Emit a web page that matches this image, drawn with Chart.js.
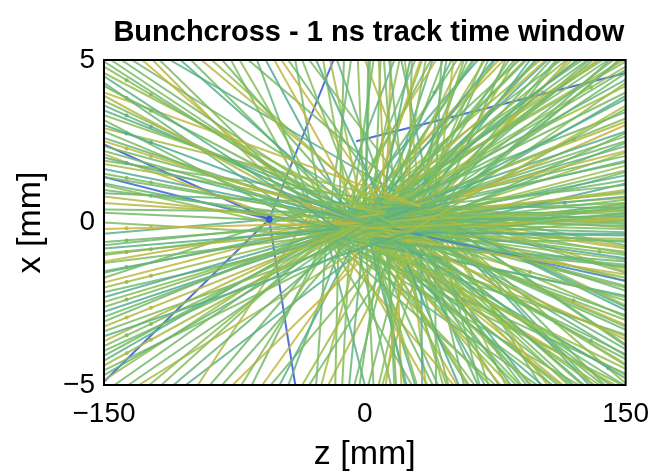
<!DOCTYPE html>
<html>
<head>
<meta charset="utf-8">
<script src="https://cdn.jsdelivr.net/npm/chart.js@4.4.1/dist/chart.umd.min.js"></script>
<style>
  html, body { margin: 0; padding: 0; background: #fff; }
  #wrap { width: 661px; height: 476px; }
</style>
</head>
<body>
<div id="wrap"><canvas id="tracks"></canvas></div>
<script>
// vertices (z, x) in mm
const vertexZ = [0, 12, -15, 25, -30, -55, 5, 40, -5, -8, 18, -22, 32];
const vertexX = [0, 0.3, -0.2, -0.3, 0.4, 0.1, -0.6, 0.2, 2.5, 0.1, -0.1, -0.4, 0.5];

// tracks leaving through the left edge (z = -150): [vertex, x at edge, time ns]
const leftRays = [
  [0, 4.8, 0.1], [2, 4.5, -0.2], [0, 4.2, 0.0], [4, 3.9, 0.5], [0, 3.6, -0.1], [1, 3.3, 0.2],
  [0, 3.0, -0.3], [2, 2.8, 0.1], [0, 2.5, 0.6], [5, 2.4, -1.0], [4, 2.2, 0.0], [0, 2.0, -0.2],
  [1, 1.8, 0.4], [0, 1.5, 0.1], [5, 1.4, -0.9], [2, 1.2, -0.1], [0, 1.0, 0.0], [3, 0.8, 0.5],
  [1, 0.4, 0.0], [0, -0.2, 0.7], [0, -0.6, 0.0], [2, -0.8, -0.2], [0, -1.0, 0.1], [1, -1.2, 0.6],
  [0, -1.5, -0.1], [4, -1.7, 0.0], [0, -2.0, 0.3], [2, -2.3, -0.3], [0, -2.6, 0.1], [1, -2.9, 0.0],
  [0, -3.2, 0.5], [3, -3.5, -0.2], [0, -3.8, 0.1], [2, -4.1, 0.0], [0, -4.4, 0.4], [1, -4.7, -0.1],
  [5, -4.9, -1.0],
  [9, 4.95, 0.0], [10, 4.6, 0.3], [11, 4.3, -0.1], [12, 4.0, 0.6], [9, 3.75, 0.1], [10, 3.45, -0.2],
  [11, 3.15, 0.0], [12, 2.9, 0.4], [9, 2.6, -0.1], [10, 2.35, 0.0], [11, 2.1, 0.6], [12, 1.9, 0.1],
  [9, 1.65, -0.3], [10, 1.4, 0.0], [11, 1.15, 0.2], [12, 0.9, -0.1], [9, 0.6, 0.5], [10, 0.3, 0.0],
  [11, 0.0, 0.1], [12, -0.35, -0.2], [9, -0.7, 0.0], [10, -0.95, 0.4], [11, -1.25, 0.1], [12, -1.55, -0.1],
  [9, -1.85, 0.6], [10, -2.15, 0.0], [11, -2.45, 0.2], [12, -2.75, -0.3], [9, -3.05, 0.0], [10, -3.35, 0.1],
  [11, -3.65, 0.5], [12, -3.95, 0.0], [9, -4.25, -0.2], [10, -4.55, 0.1], [11, -4.85, 0.3]
];

// tracks leaving through the right edge (z = 150)
const rightRays = [
  [0, 4.8, 0.2], [1, 4.4, -0.1], [0, 4.0, 0.0], [3, 3.6, 0.5], [0, 3.2, 0.1], [2, 2.8, -0.2],
  [8, 4.6, -1.0], [0, 2.5, 0.0], [1, 2.2, 0.6], [0, 1.9, -0.1], [7, 1.6, 0.1], [0, 1.3, 0.0],
  [2, 1.0, 0.4], [0, 0.8, -0.2], [1, 0.6, 0.1], [3, 0.5, 0.0], [0, 0.4, 0.3], [6, 0.3, 0.0],
  [0, 0.2, -0.1], [2, 0.1, 0.5], [1, 0.0, 0.0], [0, -0.2, 0.1], [3, -0.4, -0.3], [0, -0.6, 0.0],
  [1, -0.8, 0.5], [0, -1.0, 0.1], [6, -1.2, -0.1], [0, -1.4, 0.0], [2, -1.6, 0.6], [0, -1.8, -0.7],
  [1, -2.1, 0.0], [0, -2.4, 0.2], [7, -2.7, -0.2], [0, -3.0, 0.1], [3, -3.3, 0.0], [0, -3.6, 0.5],
  [1, -3.9, -0.1], [0, -4.2, 0.0], [2, -4.5, 0.3], [0, -4.8, -0.2],
  [9, 4.95, 0.1], [10, 4.6, 0.0], [11, 4.2, 0.4], [12, 3.8, -0.2], [9, 3.4, 0.0], [10, 3.0, 0.6],
  [11, 2.65, 0.1], [12, 2.35, -0.1], [9, 2.05, 0.0], [10, 1.75, 0.3], [11, 1.45, -0.3], [12, 1.15, 0.0],
  [9, 0.9, 0.5], [10, 0.7, 0.1], [11, 0.55, 0.0], [12, 0.45, -0.2], [9, 0.35, 0.2], [10, 0.25, 0.0],
  [11, 0.15, 0.6], [12, 0.05, 0.1], [9, -0.1, 0.0], [10, -0.3, -0.1], [11, -0.5, 0.4], [12, -0.7, 0.0],
  [9, -0.9, 0.2], [10, -1.1, -0.3], [11, -1.3, 0.0], [12, -1.5, 0.5], [9, -1.7, 0.1], [10, -1.95, 0.0],
  [11, -2.25, -0.2], [12, -2.55, 0.3], [9, -2.85, 0.0], [10, -3.15, 0.6], [11, -3.45, 0.1], [12, -3.75, -0.1],
  [9, -4.05, 0.0], [10, -4.35, 0.4], [11, -4.65, 0.0], [12, -4.95, 0.2],
  [1, 4.7, 0.0], [3, 4.3, 0.2], [6, 3.9, -0.2], [7, 3.5, 0.1], [1, 3.1, 0.5], [3, 2.75, 0.0],
  [6, 2.45, -0.1], [7, 2.15, 0.3], [1, 1.85, 0.0], [3, 1.55, 0.1], [6, 1.2, -0.3], [7, 0.95, 0.0],
  [1, 0.75, 0.6], [3, 0.6, 0.1], [6, 0.48, 0.0], [7, 0.38, -0.2], [1, 0.28, 0.2], [3, 0.18, 0.0],
  [6, 0.08, 0.4], [7, -0.05, 0.0], [1, -0.15, 0.1], [3, -0.35, -0.2], [6, -0.55, 0.0], [7, -0.75, 0.5],
  [1, -0.95, 0.0], [3, -1.15, 0.2], [6, -1.35, -0.1], [7, -1.55, 0.0], [1, -1.8, 0.6], [3, -2.0, 0.1],
  [6, -2.3, 0.0], [7, -2.6, -0.3], [1, -2.9, 0.2], [3, -3.2, 0.0], [6, -3.5, 0.4], [7, -3.8, 0.1],
  [1, -4.1, -0.1], [3, -4.4, 0.0], [6, -4.7, 0.3]
];

// tracks leaving through the top edge (x = 5): [vertex, z at edge, time ns]
const topRays = [
  [0, -140, 0.0], [2, -128, 0.7], [4, -118, 0.1], [0, -106, -0.2], [1, -94, 0.5], [0, -82, 0.0],
  [2, -72, 0.2], [4, -62, -0.1], [0, -52, 0.6], [3, -44, 0.0], [0, -36, 0.1], [1, -28, -0.3],
  [5, -18, -1.0], [0, -20, 0.4], [2, -12, 0.0], [0, -4, 0.2], [0, 2, -0.1], [1, 8, 0.5],
  [3, 14, 0.0], [0, 20, 0.2], [6, 26, -0.2], [0, 32, 0.6], [2, 38, 0.1], [7, 44, 0.0],
  [0, 50, -0.1], [1, 56, 0.4], [0, 62, 0.0], [3, 68, 0.2], [0, 74, -0.3], [2, 80, 0.5],
  [1, 86, 0.0], [0, 92, 0.1], [6, 98, -0.1], [0, 104, 0.6], [3, 110, 0.0], [0, 116, 0.2],
  [1, 122, -0.2], [0, 128, 0.0], [2, 134, 0.5], [0, 140, 0.1], [7, 146, 0.0],
  [9, -146, 0.1], [10, -134, 0.0], [11, -122, 0.5], [12, -112, -0.2], [9, -100, 0.0], [10, -88, 0.3],
  [11, -77, 0.1], [12, -67, 0.0], [9, -57, -0.3], [10, -48, 0.6], [11, -40, 0.0], [12, -32, 0.1],
  [9, -24, 0.2], [10, -16, -0.1], [11, -8, 0.0], [12, 0, 0.5], [9, 5, 0.0], [10, 11, 0.1],
  [11, 17, -0.2], [12, 23, 0.4], [9, 29, 0.0], [10, 35, 0.2], [11, 41, 0.6], [12, 47, -0.1],
  [9, 53, 0.0], [10, 59, 0.1], [11, 65, -0.3], [12, 71, 0.0], [9, 77, 0.5], [10, 83, 0.1],
  [11, 89, 0.0], [12, 95, -0.2], [9, 101, 0.3], [10, 107, 0.0], [11, 113, 0.1], [12, 119, 0.6],
  [9, 125, 0.0], [10, 131, -0.1], [11, 137, 0.2], [12, 143, 0.0], [9, 149, 0.4],
  [0, 3, 0.1], [6, 9, 0.0], [1, 15, 0.5], [7, 21, -0.1], [3, 27, 0.0], [0, 33, 0.2],
  [6, 39, -0.2], [1, 45, 0.0], [7, 51, 0.6], [3, 57, 0.1], [0, 63, 0.0], [6, 69, 0.3],
  [1, 75, -0.1], [7, 81, 0.0], [3, 87, 0.4], [0, 93, 0.0], [6, 99, 0.1], [1, 105, -0.3],
  [7, 111, 0.0], [3, 117, 0.5], [0, 123, 0.1], [6, 129, 0.0], [1, 135, 0.2], [7, 141, -0.1],
  [3, 147, 0.0]
];

// tracks leaving through the bottom edge (x = -5)
const bottomRays = [
  [0, -136, 0.0], [2, -124, 0.2], [0, -110, -0.1], [4, -96, 0.5], [0, -82, 0.0], [2, -71, 0.1],
  [1, -59, 0.6], [0, -49, -0.2], [5, -40, -1.0], [3, -32, 0.0], [0, -25, 0.4], [2, -17, 0.1],
  [0, -9, -0.1], [1, -3, 0.0], [0, 5, 0.1], [3, 12, 0.5], [1, 18, 0.0], [0, 24, -0.2],
  [6, 30, 0.2], [2, 36, 0.6], [0, 42, 0.0], [3, 48, 0.1], [1, 54, -0.3], [0, 60, 0.4],
  [7, 66, 0.0], [2, 72, 0.2], [0, 78, 0.5], [1, 84, -0.1], [3, 90, 0.0], [0, 96, 0.3],
  [6, 102, -0.2], [2, 108, 0.1], [0, 114, 0.6], [1, 120, 0.0], [3, 126, -0.1], [0, 132, 0.2],
  [7, 138, 0.0], [2, 144, 0.4],
  [9, -144, 0.0], [10, -130, 0.4], [11, -117, 0.1], [12, -103, -0.2], [9, -89, 0.0], [10, -76, 0.6],
  [11, -65, 0.0], [12, -54, 0.1], [9, -44, -0.1], [10, -36, 0.3], [11, -28, 0.0], [12, -21, 0.5],
  [9, -13, 0.1], [10, -6, 0.0], [11, 0, -0.2], [12, 8, 0.2], [9, 15, 0.0], [10, 21, 0.5],
  [11, 27, 0.1], [12, 33, -0.3], [9, 39, 0.0], [10, 45, 0.2], [11, 51, 0.6], [12, 57, 0.0],
  [9, 63, 0.1], [10, 69, -0.2], [11, 75, 0.0], [12, 81, 0.4], [9, 87, 0.1], [10, 93, 0.0],
  [11, 99, -0.1], [12, 105, 0.5], [9, 111, 0.0], [10, 117, 0.2], [11, 123, 0.0], [12, 129, -0.2],
  [9, 135, 0.3], [10, 141, 0.0], [11, 148, 0.1],
  [3, 2, 0.0], [7, 10, 0.3], [1, 17, 0.1], [6, 23, 0.0], [0, 29, -0.2], [3, 35, 0.5],
  [7, 41, 0.0], [1, 47, 0.1], [6, 53, 0.6], [0, 59, 0.0], [3, 65, -0.1], [7, 71, 0.2],
  [1, 77, 0.0], [6, 83, 0.4], [0, 89, 0.1], [3, 95, -0.3], [7, 101, 0.0], [1, 107, 0.5],
  [6, 113, 0.1], [0, 119, 0.0], [3, 125, 0.2], [7, 131, -0.1], [1, 137, 0.0], [6, 143, 0.6],
  [0, 149, 0.0]
];

// detector hits: z, x (mm) and time (ns)
const hitZ = [-137, -123, -137, -123, -137, -123, -137, -123, -137, -123, -137, -137, -123, -123,
  -137, -123, -137, -137, -123, -137, -137, -123, -137, -137, -123, -137, -123, -137, -123,
  -55, 110, 130, 95, 125, 120, 105, 120, 130, 115, 135, 140, 40, 73.6, 102.4, 76.8, 105.6, 48];
const hitX = [4.38, 3.94, 3.83, 3.44, 3.29, 2.95, 2.74, 2.46, 2.28, 2.05, 1.83, 1.37, 1.23, 0.82,
  -0.18, -0.16, -0.55, -0.91, -0.82, -1.37, -1.83, -1.64, -2.37, -2.92, -2.62, -3.47, -3.12, -4.02, -3.61,
  0.1, -3.08, -3.64, -1.52, -2.0, -2.4, 0.91, 2.56, 4.16, 0.61, -0.9, -4.48, 4.0, 4.0, 4.0, -4.0, -4.0, -4.0];
const hitTime = [0.1, 0.1, 0.0, 0.0, -0.1, -0.1, -0.3, -0.3, 0.6, 0.6, -0.2, 0.1, 0.1, 0.0,
  0.7, 0.7, 0.0, 0.1, 0.1, -0.1, 0.3, 0.3, 0.1, 0.5, 0.5, 0.1, 0.1, 0.4, 0.4,
  -1.0, 0.0, 0.0, 0.2, 0.2, 0.1, 0.0, 0.1, 0.2, -0.2, 0.1, -0.2, -0.1, 0.1, 0.0, 0.3, 0.2, 0.4];

const zTicks = [-150, 0, 150];
const xTicks = [-5, 0, 5];

// time -> colour
const timeStops = [
  [-1.0, [55, 85, 215]],
  [-0.5, [70, 160, 175]],
  [-0.2, [88, 176, 138]],
  [0.0, [115, 186, 104]],
  [0.3, [152, 190, 76]],
  [0.7, [206, 180, 58]]
];
function timeColor(t, a) {
  let c = timeStops[timeStops.length - 1][1];
  if (t <= timeStops[0][0]) c = timeStops[0][1];
  for (let i = 0; i < timeStops.length - 1; i++) {
    const [t0, c0] = timeStops[i], [t1, c1] = timeStops[i + 1];
    if (t >= t0 && t <= t1) {
      const f = (t - t0) / (t1 - t0);
      c = c0.map((v, k) => Math.round(v + (c1[k] - v) * f));
      break;
    }
  }
  return `rgba(${c[0]},${c[1]},${c[2]},${a})`;
}

// early (blue) tracks sit underneath the in-time ones
function ray(v, z, x, t) {
  return {
    data: [{ x: vertexZ[v], y: vertexX[v] }, { x: z, y: x }],
    showLine: true,
    borderColor: timeColor(t, 0.85),
    borderWidth: 2,
    pointRadius: 0,
    order: t <= -0.8 ? 1 : 0
  };
}

const datasets = [];
leftRays.forEach(([v, x, t]) => datasets.push(ray(v, -150, x, t)));
rightRays.forEach(([v, x, t]) => datasets.push(ray(v, 150, x, t)));
topRays.forEach(([v, z, t]) => datasets.push(ray(v, z, 5, t)));
bottomRays.forEach(([v, z, t]) => datasets.push(ray(v, z, -5, t)));

datasets.push({
  data: hitZ.map((z, i) => ({ x: z, y: hitX[i] })),
  showLine: false,
  pointRadius: hitZ.map(z => (z === -55 ? 3.5 : 2)),
  pointBackgroundColor: hitTime.map(t => timeColor(t, 0.95)),
  pointBorderWidth: 0,
  order: -1
});

const minus = v => (v < 0 ? '\u2212' + Math.abs(v) : String(v));

// plot box and the title centred over it
const framePlugin = {
  id: 'frame',
  afterDatasetsDraw(chart) {
    const { ctx, chartArea: a } = chart;
    ctx.save();
    ctx.strokeStyle = '#000';
    ctx.lineWidth = 2;
    ctx.strokeRect(a.left, a.top, a.right - a.left, a.bottom - a.top);
    ctx.restore();
  },
  afterDraw(chart) {
    const { ctx, chartArea: a } = chart;
    ctx.save();
    ctx.fillStyle = '#000';
    ctx.font = 'bold 29px "Liberation Sans", Arial, sans-serif';
    ctx.textAlign = 'center';
    ctx.textBaseline = 'alphabetic';
    ctx.fillText('Bunchcross - 1 ns track time window', (a.left + a.right) / 2 + 4, 41);
    ctx.restore();
  }
};

new Chart(document.getElementById('tracks'), {
  type: 'scatter',
  data: { datasets },
  plugins: [framePlugin],
  options: {
    responsive: true,
    maintainAspectRatio: false,
    animation: false,
    layout: { padding: { top: 60, right: 32, left: 0, bottom: 0 } },
    plugins: { legend: { display: false }, tooltip: { enabled: false } },
    scales: {
      x: {
        type: 'linear',
        min: -150,
        max: 150,
        afterBuildTicks: s => { s.ticks = zTicks.map(v => ({ value: v })); },
        afterFit: s => { s.height = 91; },
        grid: { display: false, drawTicks: false },
        border: { display: false },
        ticks: {
          color: '#000',
          padding: 12,
          maxRotation: 0,
          font: { family: '"Liberation Sans", Arial, sans-serif', size: 28 },
          callback: v => minus(v)
        },
        title: {
          display: true,
          text: 'z [mm]',
          color: '#000',
          padding: { top: 0, bottom: 1 },
          font: { family: '"Liberation Sans", Arial, sans-serif', size: 34 }
        }
      },
      y: {
        type: 'linear',
        min: -5,
        max: 5,
        afterBuildTicks: s => { s.ticks = xTicks.map(v => ({ value: v })); },
        afterFit: s => { s.width = 104; },
        grid: { display: false, drawTicks: false },
        border: { display: false },
        ticks: {
          color: '#000',
          padding: 9,
          font: { family: '"Liberation Sans", Arial, sans-serif', size: 28 },
          callback: v => minus(v)
        },
        title: {
          display: true,
          text: 'x [mm]',
          color: '#000',
          padding: { top: 10, bottom: 0 },
          font: { family: '"Liberation Sans", Arial, sans-serif', size: 34 }
        }
      }
    }
  }
});
</script>
</body>
</html>
